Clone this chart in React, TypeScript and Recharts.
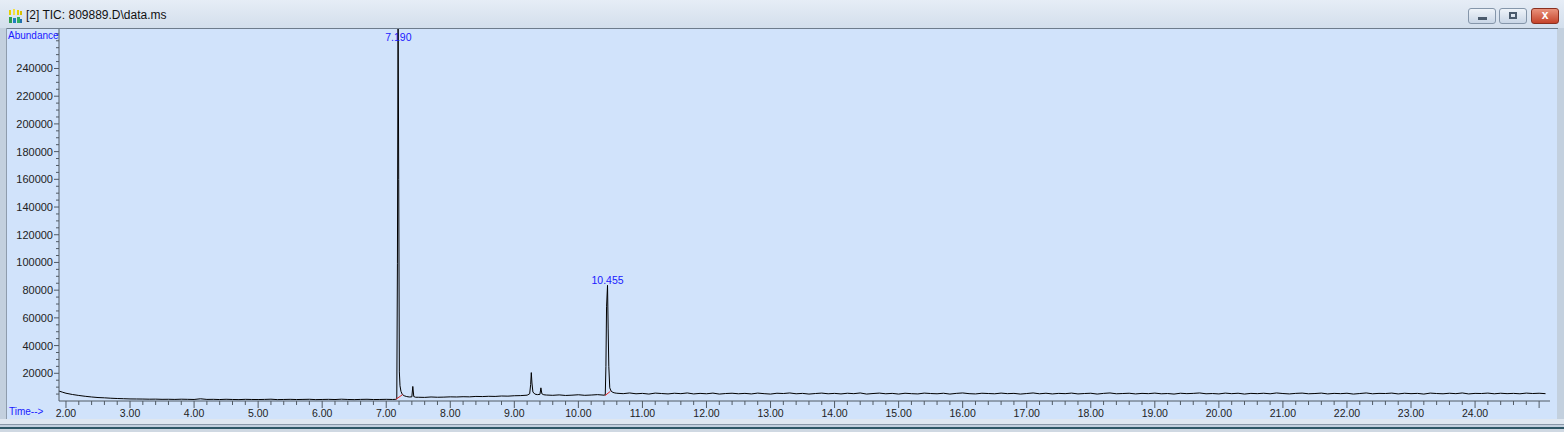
import React from "react";
import { LineChart, Line, XAxis, YAxis, ReferenceDot } from "recharts";

// retention time (min) / abundance pairs
const startDecay: [number, number][] = [
  [1.89, 7200], [1.95, 6300], [2.0, 5600], [2.1, 4700], [2.2, 4000],
  [2.3, 3400], [2.4, 2900], [2.5, 2500], [2.6, 2300], [2.7, 2000],
  [2.8, 1800], [2.9, 1650],
];

const earlyBaselineStart = 3.0;
const earlyBaseline = [
  1500, 1450, 1400, 1300, 1350, 1200, 1250, 1150, 1300, 1200, 1100,
  1600, 1150, 1200, 1050, 1250, 1100, 1000, 1200, 1100, 1050,
  1150, 1300, 1000, 1100, 1200, 1050, 1150, 1250, 1000, 1100,
  1200, 1050, 1300, 1100, 1000, 1150, 1250, 1050, 1100, 1200,
  1100,
];

const peak7190: [number, number][] = [
  [7.15, 1200], [7.165, 1600], [7.175, 99000], [7.185, 290000],
  [7.195, 160000], [7.205, 21000], [7.215, 11000], [7.23, 7000],
  [7.25, 4800], [7.28, 3800], [7.32, 3200], [7.36, 2900], [7.4, 3000],
  [7.415, 10500], [7.43, 3200], [7.46, 2700],
];

const midBaselineStart = 7.5;
const midBaseline = [
  2700, 2600, 2900, 2700, 2800, 3000, 2900, 3100, 3000, 3300,
  3200, 3400, 3300, 3600, 3500, 3800, 3900, 4200,
];

const peak9270: [number, number][] = [
  [9.24, 5200], [9.255, 12000], [9.265, 20500], [9.275, 13000],
  [9.29, 6500], [9.32, 5000], [9.36, 4600], [9.4, 4800], [9.415, 9500],
  [9.43, 5200], [9.46, 4500],
];

const preBaselineStart = 9.5;
const preBaseline = [4300, 4100, 4400, 4000, 4200, 4500, 4100, 4300, 4600, 4200];

const peak10455: [number, number][] = [
  [10.42, 4500], [10.43, 25000], [10.44, 68000], [10.455, 83500],
  [10.465, 52000], [10.475, 25000], [10.49, 9500], [10.51, 7200],
  [10.54, 6200], [10.57, 5800],
];

const lateBaselineStart = 10.6;
const lateBaseline = [
  5600, 5300, 5800, 5200, 5500, 5000, 5700, 5400, 5100, 5600,
  5300, 5800, 5100, 5500, 5200, 5700, 5000, 5400, 5600, 5200,
  5500, 5100, 5700, 5300, 5000, 5600, 5400, 5800, 5200, 5500,
  5000, 5400, 5700, 5200, 5500, 5100, 5600, 5300, 5800, 5000,
  5400, 5700, 5200, 5500, 5000, 5600, 5300, 5100, 5700, 5400,
  5200, 5600, 5000, 5500, 5800, 5300, 5100, 5600, 5400, 5200,
  5700, 5300, 5500, 5000, 5400, 5800, 5200, 5600, 5100, 5500,
  5300, 5700, 5100, 5400, 5600, 5000, 5500, 5800, 5200, 5400,
  5600, 5100, 5500, 5300, 5700, 5200, 5400, 5000, 5600, 5300,
  5500, 5800, 5200, 5400, 5100, 5700, 5300, 5600, 5000, 5500,
  5300, 5600, 5200, 5800, 5400, 5100, 5500, 5700, 5200, 5400,
  5700, 5100, 5500, 5300, 5600, 5000, 5400, 5800, 5200, 5500,
  5400, 5700, 5100, 5600, 5300, 5500, 5000, 5700, 5400, 5200,
  5600, 5300, 5800, 5100, 5500, 5400, 5700, 5200, 5600, 5300,
  5500, 5200, 5700, 5400, 5600, 5300,
];

// red integration baselines under the two labelled peaks
const integrationMarks = [
  { t: 7.15, v: 1200 }, { t: 7.255, v: 4600 }, { t: 7.26, v: null },
  { t: 10.415, v: 3900 }, { t: 10.5, v: 7000 },
];

const peakLabels = [
  { t: 7.19, v: 256000, text: "7.190" },
  { t: 10.455, v: 80800, text: "10.455" },
];

const xMajorTicks = [2, 3, 4, 5, 6, 7, 8, 9, 10, 11, 12, 13, 14, 15, 16, 17, 18, 19, 20, 21, 22, 23, 24, 25];
const yMajorTicks = [20000, 40000, 60000, 80000, 100000, 120000, 140000, 160000, 180000, 200000, 220000, 240000, 260000];

const stepped = (start: number, values: number[]) =>
  values.map((v, i) => [Math.round((start + i * 0.1) * 1000) / 1000, v] as [number, number]);

const trace = [
  ...startDecay,
  ...stepped(earlyBaselineStart, earlyBaseline),
  ...peak7190,
  ...stepped(midBaselineStart, midBaseline),
  ...peak9270,
  ...stepped(preBaselineStart, preBaseline),
  ...peak10455,
  ...stepped(lateBaselineStart, lateBaseline),
].map(([t, v]) => ({ t, v }));

const xTicks: number[] = [];
xMajorTicks.forEach((m) => {
  xTicks.push(m);
  if (m < 25) [0.2, 0.4, 0.6, 0.8].forEach((d) => xTicks.push(Math.round((m + d) * 10) / 10));
});
const yTicks: number[] = [];
for (let v = 5000; v <= 265000; v += 5000) yTicks.push(v);

const FONT = '"Liberation Sans", Arial, sans-serif';
const BLUE = "#1a1aff";
const AXIS = "#505a64";

const XTick = (props: any) => {
  const { x, y, payload } = props;
  const v = payload.value as number;
  const major = xMajorTicks.includes(v);
  return (
    <g>
      <line x1={x} x2={x} y1={y} y2={y + (major ? 7 : 4)} stroke={AXIS} />
      {major && v <= 24 && (
        <text x={x} y={y + 16} textAnchor="middle" fontSize={10.5} fontFamily={FONT} fill="#222">
          {v.toFixed(2)}
        </text>
      )}
    </g>
  );
};

const YTick = (props: any) => {
  const { x, y, payload } = props;
  const v = payload.value as number;
  const major = yMajorTicks.includes(v) && v <= 240000;
  return (
    <g>
      <line x1={x - (major ? 5 : 3)} x2={x} y1={y} y2={y} stroke={AXIS} />
      {major && (
        <text x={x - 6} y={y + 4} textAnchor="end" fontSize={11} fontFamily={FONT} fill="#222">
          {v}
        </text>
      )}
    </g>
  );
};

const btn = (left: number, bg: string, border: string): React.CSSProperties => ({
  position: "absolute",
  left,
  top: 8,
  width: 28,
  height: 16,
  borderRadius: 3,
  border: `1px solid ${border}`,
  background: bg,
  boxSizing: "border-box",
});

export default function App() {
  return (
    <div
      style={{
        position: "fixed",
        left: 0,
        top: 0,
        width: 1564,
        height: 432,
        overflow: "hidden",
        background: "#c3d0de",
        fontFamily: FONT,
      }}
    >
      {/* title bar */}
      <div
        style={{
          position: "absolute",
          left: 0,
          top: 0,
          width: 1564,
          height: 28,
          background: "linear-gradient(#e6edf6, #d3dfec)",
        }}
      />
      <svg style={{ position: "absolute", left: 8, top: 9 }} width={15} height={15}>
        <rect x={1} y={1} width={2} height={5} fill="#e8d000" />
        <rect x={5} y={0} width={2} height={6} fill="#f0e040" />
        <rect x={9} y={1} width={2} height={5} fill="#e8d000" />
        <rect x={12} y={2} width={2} height={4} fill="#d8c000" />
        <rect x={1} y={8} width={3} height={6} fill="#30a050" />
        <rect x={5} y={9} width={3} height={5} fill="#2080c0" />
        <rect x={9} y={8} width={3} height={6} fill="#30b060" />
        <rect x={12} y={10} width={2} height={4} fill="#2070b0" />
      </svg>
      <div style={{ position: "absolute", left: 26, top: 8, fontSize: 12, color: "#111", whiteSpace: "nowrap" }}>
        [2] TIC: 809889.D\data.ms
      </div>
      <div style={btn(1468, "linear-gradient(#eef3f9, #c9d6e6)", "#8596aa")}>
        <div style={{ position: "absolute", left: 9, top: 8, width: 9, height: 3, background: "#4a5a6c" }} />
      </div>
      <div style={btn(1499, "linear-gradient(#eef3f9, #c9d6e6)", "#8596aa")}>
        <div style={{ position: "absolute", left: 9, top: 3, width: 8, height: 7, border: "2px solid #4a5a6c", boxSizing: "border-box" }} />
      </div>
      <div style={btn(1531, "linear-gradient(#e9927c, #c5432a)", "#8a3020")}>
        <div style={{ position: "absolute", left: 0, top: -1, width: 26, textAlign: "center", color: "#fff", fontSize: 12, fontWeight: 700 }}>
          x
        </div>
      </div>

      {/* plot panel */}
      <div style={{ position: "absolute", left: 6, top: 28, width: 1552, height: 1, background: "#6e7c8c" }} />
      <div style={{ position: "absolute", left: 6, top: 28, width: 1, height: 392, background: "#8e9cac" }} />
      <div style={{ position: "absolute", left: 7, top: 29, width: 1550, height: 390, background: "#d1e3fb" }} />
      <div style={{ position: "absolute", left: 0, top: 419, width: 1564, height: 5, background: "#dfe7f0" }} />
      <div style={{ position: "absolute", left: 0, top: 424, width: 1564, height: 1, background: "#8a98a8" }} />
      <div style={{ position: "absolute", left: 0, top: 427, width: 1564, height: 2, background: "#2f5766" }} />
      <div style={{ position: "absolute", left: 0, top: 429, width: 1564, height: 3, background: "#cfd8e2" }} />

      <div style={{ position: "absolute", left: 0, top: 0 }}>
        <LineChart width={1564} height={432} data={trace} margin={{ top: 29, right: 14, bottom: 0, left: 0 }}>
          <XAxis
            type="number"
            dataKey="t"
            domain={[1.891, 25.17]}
            allowDataOverflow
            ticks={xTicks}
            interval={0}
            height={31}
            tickSize={0}
            tickMargin={0}
            tickLine={false}
            axisLine={{ stroke: AXIS }}
            tick={<XTick />}
          />
          <YAxis
            type="number"
            domain={[0, 268500]}
            allowDataOverflow
            ticks={yTicks}
            interval={0}
            width={59}
            tickSize={0}
            tickMargin={0}
            tickLine={false}
            axisLine={{ stroke: AXIS }}
            tick={<YTick />}
          />
          <Line
            type="linear"
            dataKey="v"
            stroke="#000"
            strokeWidth={1}
            dot={false}
            isAnimationActive={false}
          />
          <Line
            type="linear"
            data={integrationMarks}
            dataKey="v"
            stroke="#e02020"
            strokeWidth={1}
            dot={false}
            connectNulls={false}
            isAnimationActive={false}
          />
          {peakLabels.map((p) => (
            <ReferenceDot
              key={p.text}
              x={p.t}
              y={p.v}
              r={1}
              fill="none"
              stroke="none"
              label={{ value: p.text, position: "top", offset: 4, fill: BLUE, fontSize: 10.5, fontFamily: FONT }}
            />
          ))}
        </LineChart>
      </div>

      <div style={{ position: "absolute", left: 8, top: 30, fontSize: 10, color: BLUE }}>Abundance</div>
      <div style={{ position: "absolute", left: 9, top: 406, fontSize: 10, color: BLUE }}>Time--&gt;</div>
    </div>
  );
}
